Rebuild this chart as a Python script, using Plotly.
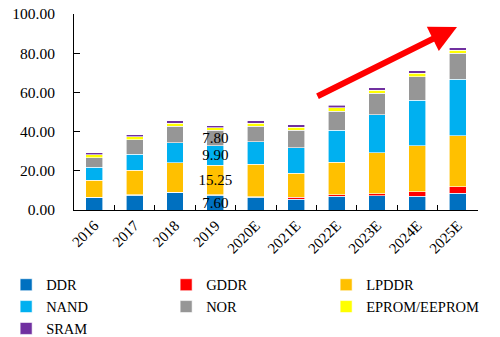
import plotly.graph_objects as go

years = ["2016", "2017", "2018", "2019", "2020E", "2021E", "2022E", "2023E", "2024E", "2025E"]
series_names = ["DDR", "GDDR", "LPDDR", "NAND", "NOR", "EPROM/EEPROM", "SRAM"]
ddr = [6.5, 7.6, 9.0, 7.60, 6.5, 5.4, 7.1, 7.4, 7.1, 8.5]
gddr = [0.1, 0.1, 0.1, 0.1, 0.2, 1.0, 0.7, 0.9, 2.2, 3.4]
lpddr = [8.6, 12.6, 15.1, 15.25, 16.7, 12.3, 16.5, 21.0, 23.4, 26.0]
nand = [6.5, 8.2, 10.2, 9.90, 11.4, 13.1, 16.3, 19.2, 23.4, 28.8]
nor = [4.9, 7.3, 8.4, 7.80, 8.0, 9.0, 9.9, 11.0, 11.9, 13.2]
eprom = [1.6, 1.6, 1.5, 1.4, 1.5, 1.5, 1.6, 1.6, 1.7, 1.7]
sram = [0.9, 1.0, 1.2, 1.0, 1.2, 1.2, 1.3, 1.2, 1.3, 1.3]
labelled_year = "2019"
y_ticks = [0, 20, 40, 60, 80, 100]

colors = ["#0070C0", "#FF0000", "#FFC000", "#00B0F0", "#969696", "#FFFF00", "#7030A0"]
values = [ddr, gddr, lpddr, nand, nor, eprom, sram]
labelled = [True, False, True, True, True, False, False]

FONT = "Liberation Serif"
fig = go.Figure()
for name, vals, col, lab in zip(series_names, values, colors, labelled):
    text = [f"{v:.2f}" if (lab and y == labelled_year) else "" for y, v in zip(years, vals)]
    fig.add_trace(go.Bar(
        x=years, y=vals, name=name,
        marker=dict(color=col, line=dict(color="white", width=0.6)),
        text=text, textposition="inside", insidetextanchor="middle",
        constraintext="none", textangle=0,
        textfont=dict(family=FONT, size=15, color="black"),
        hoverinfo="x+y+name",
    ))

fig.add_annotation(
    xref="paper", yref="paper", x=0.948, y=0.934,
    axref="pixel", ayref="pixel", ax=-141, ay=70,
    text="", showarrow=True, arrowhead=2, arrowsize=0.9,
    arrowwidth=6, arrowcolor="#FF0000", standoff=0,
)

fig.update_layout(
    barmode="stack", bargap=0.58,
    width=500, height=337,
    margin=dict(l=74, r=22, t=14, b=127, autoexpand=False),
    paper_bgcolor="white", plot_bgcolor="white",
    font=dict(family=FONT, size=14, color="black"),
    showlegend=True,
    legend=dict(
        orientation="h",
        x=-0.168, xanchor="left", y=-0.30, yanchor="top",
        font=dict(family=FONT, size=14.5, color="black"),
        entrywidth=115, entrywidthmode="pixels",
        traceorder="normal", itemclick=False,
        tracegroupgap=0,
    ),
)
fig.update_xaxes(
    type="category", showline=True, linecolor="black", linewidth=1,
    ticks="inside", tickson="boundaries", ticklen=5, tickcolor="black",
    tickangle=-45, tickfont=dict(family=FONT, size=15, color="black"),
    showgrid=False, zeroline=False, automargin=False,
)
fig.update_yaxes(
    range=[0, 100], tickvals=y_ticks, tickformat=".2f",
    showline=True, linecolor="black", linewidth=1,
    ticks="inside", ticklen=6, tickcolor="black",
    tickfont=dict(family=FONT, size=15.5, color="black"),
    ticklabelstandoff=15,
    showgrid=False, zeroline=False, automargin=False,
)

fig.write_html("out.html")
